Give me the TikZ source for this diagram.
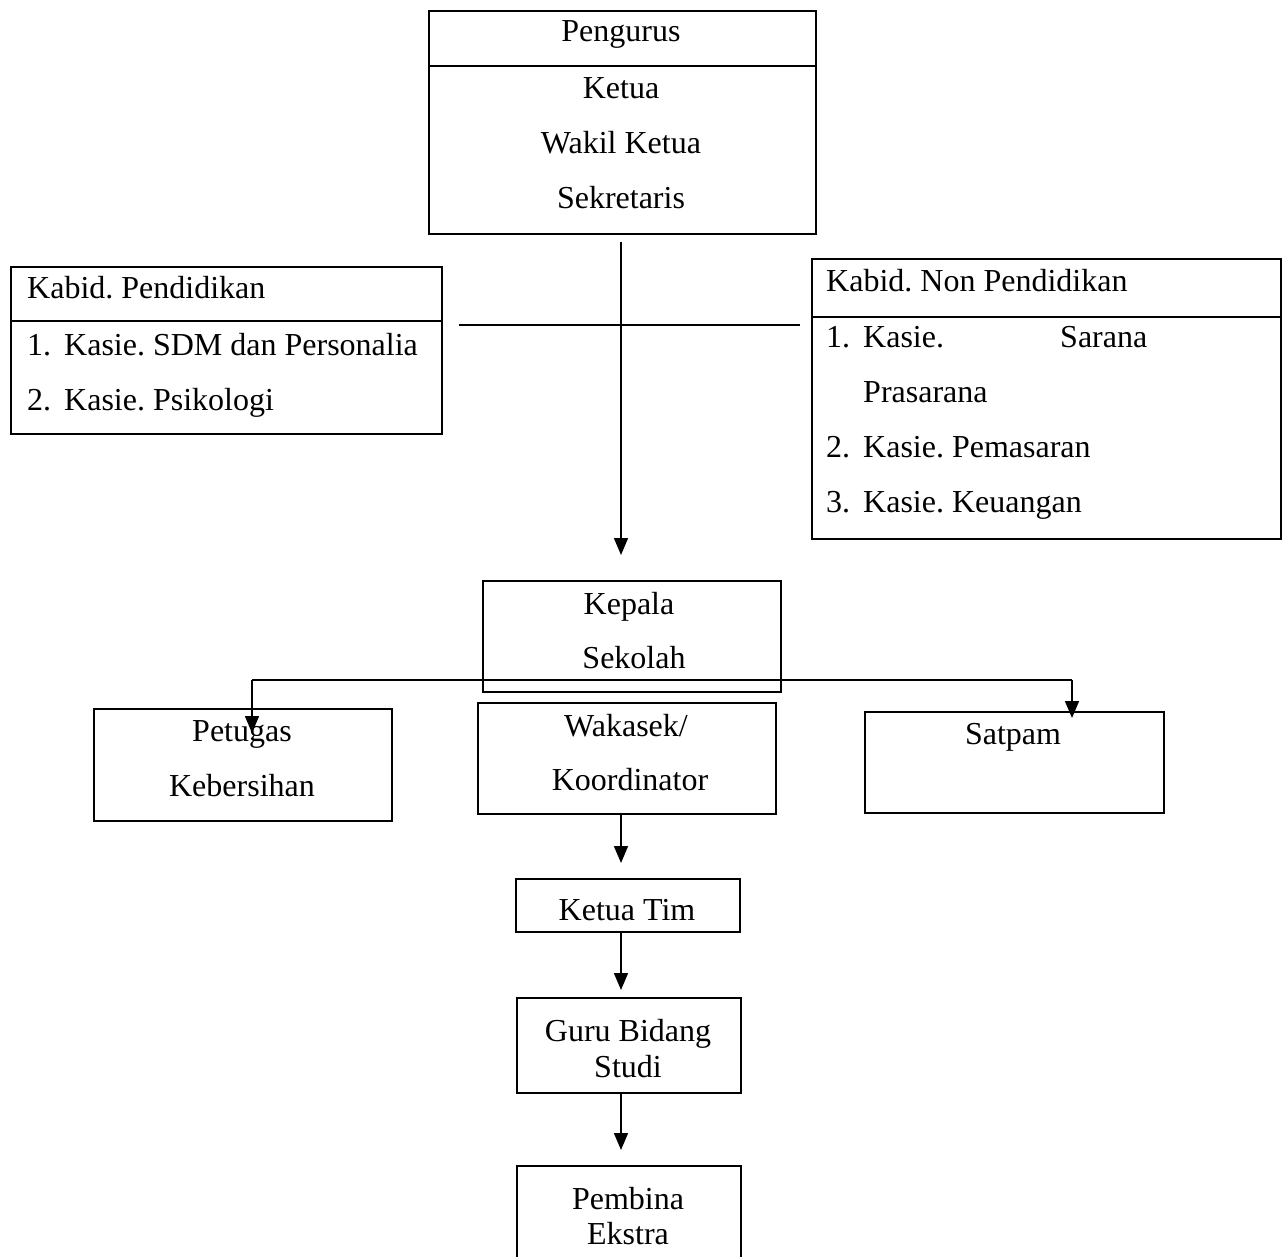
\documentclass[tikz,border=0pt]{standalone}
\usepackage{fontspec}
\setmainfont{Liberation Serif}
\usetikzlibrary{arrows.meta,positioning}
\tikzset{
  box/.style={draw,line width=1.6pt,rectangle,inner sep=0pt,anchor=north west},
  txt/.style={inner sep=0pt,anchor=base,font=\fontsize{32}{36}\selectfont},
  ltxt/.style={txt,anchor=base west},
  ln/.style={line width=1.6pt},
  arr/.style={ln,-{Triangle[width=14pt,length=17pt]}}
}
\newcommand{\itm}[1]{\makebox[37pt][l]{#1}}
\frenchspacing

\begin{document}
\begin{tikzpicture}[x=1pt,y=-1pt]
  \useasboundingbox (0,0) rectangle (1285,1257);
  % boxes
  \node[box,minimum width=387pt,minimum height=223pt](pengurus) at (428,10) {};
  \node[box,minimum width=431pt,minimum height=167pt](kabidpend) at (10,266) {};
  \node[box,minimum width=469pt,minimum height=280pt](kabidnon) at (811,258) {};
  \node[box,minimum width=298pt,minimum height=111pt](kepsek) at (482,580) {};
  \node[box,minimum width=298pt,minimum height=112pt](petugas) at (93,708) {};
  \node[box,minimum width=298pt,minimum height=111pt](wakasek) at (477,702) {};
  \node[box,minimum width=299pt,minimum height=101pt](satpam) at (864,711) {};
  \node[box,minimum width=224pt,minimum height=53pt](ketuatim) at (515,878) {};
  \node[box,minimum width=224pt,minimum height=95pt](guru) at (516,997) {};
  \node[box,minimum width=224pt,minimum height=100pt](pembina) at (516,1165) {};
  % dividers
  \draw[ln] ([yshift=-56pt]pengurus.north west) -- ([yshift=-56pt]pengurus.north east);
  \draw[ln] ([yshift=-55pt]kabidpend.north west) -- ([yshift=-55pt]kabidpend.north east);
  \draw[ln] ([yshift=-59pt]kabidnon.north west) -- ([yshift=-59pt]kabidnon.north east);
  % texts
  \node[txt](t-peng) at (621,42) {Pengurus};
  \node[txt](t-ketua) at (621,99) {Ketua};
  \node[txt](t-wakil) at (621,154) {Wakil Ketua};
  \node[txt](t-sekr) at (621,209) {Sekretaris};
  \node[ltxt](t-kp) at (27,299) {Kabid. Pendidikan};
  \node[ltxt](t-kp1) at (27,355) {\itm{1.}Kasie. SDM dan Personalia};
  \node[ltxt](t-kp2) at (27,410) {\itm{2.}Kasie. Psikologi};
  \node[ltxt](t-kn) at (826,291) {Kabid. Non Pendidikan};
  \node[ltxt](t-kn1) at (826,347) {\itm{1.}Kasie.};
  \node[ltxt](t-kn1b) at (1060,347) {Sarana};
  \node[ltxt](t-kn1c) at (863,402) {Prasarana};
  \node[ltxt](t-kn2) at (826,457) {\itm{2.}Kasie. Pemasaran};
  \node[ltxt](t-kn3) at (826,512) {\itm{3.}Kasie. Keuangan};
  \node[txt](t-kepala) at (629,614) {Kepala};
  \node[txt](t-sekolah) at (634,668) {Sekolah};
  \node[txt](t-petugas) at (242,741) {Petugas};
  \node[txt](t-bersih) at (242,796) {Kebersihan};
  \node[txt](t-wakasek) at (626,736) {Wakasek/};
  \node[txt](t-koord) at (630,790) {Koordinator};
  \node[txt](t-satpam) at (1013,744) {Satpam};
  \node[txt](t-tim) at (627,920) {Ketua Tim};
  \node[txt](t-guru) at (628,1041) {Guru Bidang};
  \node[txt](t-studi) at (628,1077) {Studi};
  \node[txt](t-pembina) at (628,1209) {Pembina};
  \node[txt](t-ekstra) at (628,1244) {Ekstra};
  % connectors
  \coordinate (cross) at (621,325);
  \coordinate (axis) at (621,0);
  \coordinate (lpt) at (252,680);
  \coordinate (rpt) at (1072,680);
  \draw[arr,shorten <=7pt,shorten >=25pt] (pengurus.south -| axis) -- (kepsek.north -| axis);
  \draw[ln,shorten <=16pt,shorten >=11pt] (kabidpend.east |- cross) -- (kabidnon.west |- cross);
  \draw[ln] (lpt) -- (rpt);
  \draw[arr,shorten >=-25pt] (lpt) -- (lpt |- petugas.north);
  \draw[arr,shorten >=-7pt] (rpt) -- (rpt |- satpam.north);
  \draw[arr,shorten >=15pt] (wakasek.south -| axis) -- (ketuatim.north -| axis);
  \draw[arr,shorten >=7pt] (ketuatim.south -| axis) -- (guru.north -| axis);
  \draw[arr,shorten >=15pt] (guru.south -| axis) -- (pembina.north -| axis);
\end{tikzpicture}
\end{document}
